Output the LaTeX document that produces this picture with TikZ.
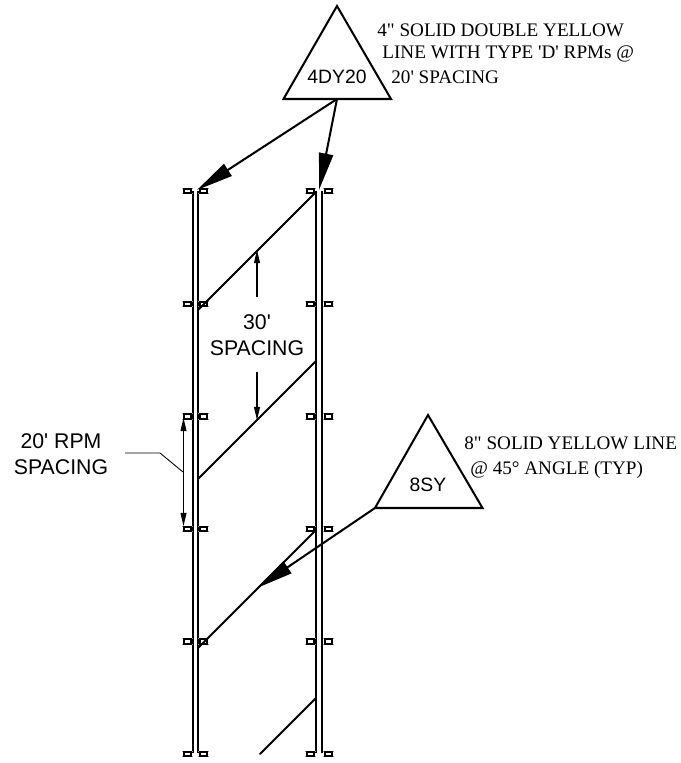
\documentclass[tikz,border=0pt]{standalone}
\usepackage{fontspec}
\usetikzlibrary{arrows.meta}
\newfontfamily\notefont{Liberation Serif}
\newfontfamily\labelfont{Liberation Sans}
\tikzset{
	rail/.style={line width=1pt},
	stripe/.style={line width=1.1pt, line cap=round},
	leader/.style={line width=1.15pt, -{Triangle[length=21pt, width=8pt]}},
	dimline/.style={line width=0.6pt, -{Triangle[length=7.5pt, width=3.4pt]}},
	sign/.style={line width=1.15pt, line join=miter},
	note/.style={anchor=west, inner sep=0, font=\notefont\fontsize{10.9}{12}\selectfont},
	signtext/.style={inner sep=0, font=\labelfont\fontsize{11}{13}\selectfont},
	dimtext/.style={inner sep=0, align=center, font=\labelfont\fontsize{12.1}{14.5}\selectfont}
}
\def\rpmbox(#1,#2){
	\draw[black!40, line width=0.35pt] (#1-0.115, #2-0.055) -- (#1+0.115, #2-0.055) (#1-0.115, #2+0.055) -- (#1+0.115, #2+0.055);
	\draw[line width=1.4pt, fill=white] (#1-0.07, #2-0.045) rectangle (#1+0.07, #2+0.045);
}
\begin{document}
\begin{tikzpicture}
	\useasboundingbox (0, 0) rectangle (13.62, 15.26);

	% rails
	\foreach \x in {3.854, 3.96, 6.32, 6.44}
		\draw[rail] (\x, 11.44) -- (\x, 0.2);

	% markers
	\foreach \y in {11.44, 9.18, 6.93, 4.68, 2.43, 0.18} {
		\rpmbox(3.75, \y)
		\rpmbox(4.07, \y)
		\rpmbox(6.21, \y)
		\rpmbox(6.57, \y)
	}

	% stripes
	\draw[stripe] (6.32, 11.42) -- (3.96, 9.06);
	\draw[stripe] (6.32, 8.04) -- (3.96, 5.68);
	\draw[stripe] (6.32, 4.66) -- (3.96, 2.3);
	\draw[stripe] (6.32, 1.3) -- (5.2, 0.18);

	% signs
	\draw[sign, fill=white] (6.74, 15.14) -- (5.67, 13.28) -- (7.82, 13.28) -- cycle;
	\coordinate (dyfoot) at (6.74, 13.28);
	\node[signtext] (dylabel) at (6.74, 13.72) {4DY20};
	\draw[sign, fill=white] (8.56, 6.96) -- (7.5, 5.1) -- (9.65, 5.1) -- cycle;
	\coordinate (syfoot) at (7.5, 5.1);
	\node[signtext] (sylabel) at (8.56, 5.56) {8SY};

	\coordinate (dyleft) at (3.94, 11.46);
	\coordinate (dyright) at (6.38, 11.46);
	\coordinate (sytip) at (5.14, 3.5);
	\draw[leader] (dyfoot) -- (dyleft);
	\draw[leader] (dyfoot) -- (dyright);
	\draw[leader] (syfoot) -- (sytip);

	% notes
	\node[note] (dynotea) at (7.54, 14.66) {4" SOLID DOUBLE YELLOW};
	\node[note] (dynoteb) at (7.64, 14.18) {LINE WITH TYPE 'D' RPMs @};
	\node[note] (dynotec) at (7.82, 13.72) {20' SPACING};
	\node[note] (synotea) at (9.28, 6.4) {8" SOLID YELLOW LINE};
	\node[note] (synoteb) at (9.4, 5.86) {@ 45° ANGLE (TYP)};

	% dimensions
	\node[dimtext] (thirty) at (5.14, 8.56) {30'\\SPACING};
	\coordinate (thirtyup) at (5.14, 10.26);
	\coordinate (thirtydown) at (5.14, 6.86);
	\draw[dimline] (5.14, 9.32) -- (thirtyup);
	\draw[dimline] (5.14, 7.82) -- (thirtydown);

	\node[dimtext] (twenty) at (1.22, 6.18) {20' RPM\\SPACING};
	\coordinate (twentytop) at (3.67, 6.9);
	\coordinate (twentybot) at (3.67, 4.74);
	\draw[dimline, {Triangle[length=7.5pt, width=3.4pt]}-{Triangle[length=7.5pt, width=3.4pt]}] (twentytop) -- (twentybot);
	\draw[line width=0.5pt] (2.5, 6.2) -- (3.2, 6.2) -- (3.66, 5.82);
\end{tikzpicture}
\end{document}
